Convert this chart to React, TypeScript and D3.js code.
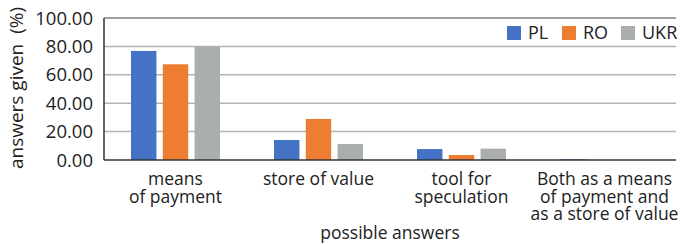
import React, { useEffect, useRef } from "react";
import * as d3 from "d3";

const categories = [
  ["means", "of payment"],
  ["store of value"],
  ["tool for", "speculation"],
  ["Both as a means", "of payment and", "as a store of value"],
];
const seriesNames = ["PL", "RO", "UKR"];
const plValues = [76.8, 14.1, 7.7, 0.5];
const roValues = [67.4, 28.9, 3.5, 0];
const ukrValues = [79.8, 11.3, 8.0, 0];
const yTicks = [0, 20, 40, 60, 80, 100];
const colors = ["#4472C4", "#ED7D31", "#ABAEAE"];

export default function App() {
  const svgRef = useRef(null);

  useEffect(() => {
    const w = 690;
    const h = 244;
    const m = { top: 18, right: 14, bottom: 84, left: 104 };
    const font = "'Open Sans', sans-serif";
    const svg = d3.select(svgRef.current).attr("width", w).attr("height", h);
    svg.selectAll("*").remove();

    const series = [plValues, roValues, ukrValues];
    const idx = categories.map((_, i) => i);

    const x0 = d3
      .scaleBand()
      .domain(idx.map(String))
      .range([m.left, w - m.right]);
    const x1 = d3
      .scaleBand()
      .domain(seriesNames)
      .range([0, x0.bandwidth()])
      .paddingInner(0.2)
      .paddingOuter(0.85);
    const y = d3.scaleLinear().domain([0, 100]).range([h - m.bottom, m.top]);

    // gridlines
    svg
      .append("g")
      .selectAll("line")
      .data(yTicks.slice(1))
      .join("line")
      .attr("x1", m.left)
      .attr("x2", w - m.right)
      .attr("y1", (d) => y(d))
      .attr("y2", (d) => y(d))
      .attr("stroke", (d) => (d === 100 ? "#808080" : "#B4B4B4"))
      .attr("stroke-width", 1.5);

    // bars
    seriesNames.forEach((name, s) => {
      svg
        .append("g")
        .selectAll("rect")
        .data(series[s])
        .join("rect")
        .attr("x", (d, i) => x0(String(i)) + x1(name))
        .attr("y", (d) => y(d))
        .attr("width", x1.bandwidth())
        .attr("height", (d) => y(0) - y(d))
        .attr("fill", colors[s]);
    });

    // axes lines
    svg
      .append("line")
      .attr("x1", m.left)
      .attr("x2", m.left)
      .attr("y1", y(100))
      .attr("y2", y(0))
      .attr("stroke", "#333")
      .attr("stroke-width", 1.5);
    svg
      .append("line")
      .attr("x1", m.left)
      .attr("x2", w - m.right)
      .attr("y1", y(0))
      .attr("y2", y(0))
      .attr("stroke", "#333")
      .attr("stroke-width", 1.5);

    // y tick labels
    svg
      .append("g")
      .selectAll("text")
      .data(yTicks)
      .join("text")
      .attr("x", m.left - 11)
      .attr("y", (d) => y(d))
      .attr("dy", "0.36em")
      .attr("text-anchor", "end")
      .attr("font-family", font)
      .attr("font-size", 18.5)
      .attr("fill", "#222")
      .text((d) => d3.format(".2f")(d));

    // category labels
    const catG = svg
      .append("g")
      .selectAll("text")
      .data(categories)
      .join("text")
      .attr("x", (d, i) => x0(String(i)) + x0.bandwidth() / 2)
      .attr("y", 185)
      .attr("text-anchor", "middle")
      .attr("font-family", font)
      .attr("font-size", 17.5)
      .attr("fill", "#222");
    catG
      .selectAll("tspan")
      .data((d) => d)
      .join("tspan")
      .attr("x", function () {
        return d3.select(this.parentNode).attr("x");
      })
      .attr("dy", (d, i) => (i === 0 ? 0 : 17.5))
      .text((d) => d);
    // keep labels inside the picture, like the original does at the right edge
    catG.each(function () {
      const bb = this.getBBox();
      const over = bb.x + bb.width - (w - 3);
      if (over > 0) {
        const nx = +d3.select(this).attr("x") - over;
        d3.select(this).attr("x", nx).selectAll("tspan").attr("x", nx);
      }
    });

    // axis titles
    svg
      .append("text")
      .attr("x", (m.left + w - m.right) / 2)
      .attr("y", 239)
      .attr("text-anchor", "middle")
      .attr("font-family", font)
      .attr("font-size", 17.5)
      .attr("fill", "#222")
      .text("possible answers");
    svg
      .append("text")
      .attr("transform", `translate(23, ${88}) rotate(-90)`)
      .attr("text-anchor", "middle")
      .attr("font-family", font)
      .attr("font-size", 19)
      .attr("fill", "#222")
      .style("white-space", "pre")
      .text("answers given  (%)");

    // legend
    const legendX = [507, 562, 621];
    const lg = svg
      .append("g")
      .selectAll("g")
      .data(seriesNames)
      .join("g")
      .attr("transform", (d, i) => `translate(${legendX[i]}, 26)`);
    lg.append("rect")
      .attr("width", 14)
      .attr("height", 14)
      .attr("fill", (d, i) => colors[i]);
    lg.append("text")
      .attr("x", 21)
      .attr("y", 7)
      .attr("dy", "0.36em")
      .attr("font-family", font)
      .attr("font-size", 18)
      .attr("fill", "#222")
      .text((d) => d);
  }, []);

  return <svg ref={svgRef} style={{ position: "absolute", left: 0, top: 0 }}></svg>;
}
